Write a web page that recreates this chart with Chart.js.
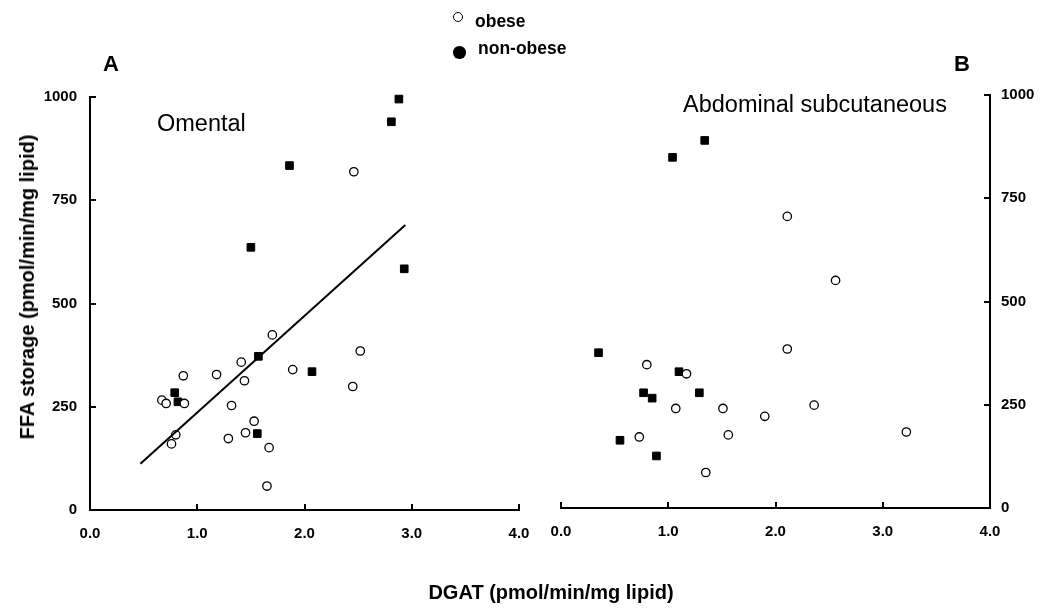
<!DOCTYPE html>
<html>
<head>
<meta charset="utf-8">
<script src="https://cdn.jsdelivr.net/npm/chart.js@4/dist/chart.umd.min.js"></script>
<style>
	body { margin: 0; background: #fff; }
	#wrap { position: relative; width: 1050px; height: 615px; overflow: hidden; font-family: "Liberation Sans", Arial, sans-serif; color: #000; }
	canvas { position: absolute; top: 0; }
	#chartA { left: 0; }
	#chartB { left: 530px; }
	.txt { position: absolute; white-space: nowrap; line-height: 1; }
	.bold { font-weight: bold; }
	.dot { position: absolute; border-radius: 50%; box-sizing: border-box; }
</style>
</head>
<body>
<div id="wrap">
	<canvas id="chartA" width="560" height="615"></canvas>
	<canvas id="chartB" width="520" height="615"></canvas>

	<div class="txt bold" style="left:103px;top:53px;font-size:22px;">A</div>
	<div class="txt bold" style="left:954px;top:53px;font-size:22px;">B</div>
	<div class="txt" style="left:157px;top:112px;font-size:23.5px;">Omental</div>
	<div class="txt" style="left:683px;top:93px;font-size:23.5px;">Abdominal subcutaneous</div>

	<!-- legend -->
	<div class="dot" style="left:453px;top:12px;width:10px;height:10px;border:1.5px solid #000;background:#fff;"></div>
	<div class="txt bold" style="left:475px;top:13px;font-size:17.5px;">obese</div>
	<div class="dot" style="left:453px;top:46px;width:12.5px;height:12.5px;background:#000;"></div>
	<div class="txt bold" style="left:478px;top:40px;font-size:17.5px;">non-obese</div>

	<div class="txt bold" style="left:27px;top:287px;font-size:20px;transform:translate(-50%,-50%) rotate(-90deg);">FFA storage (pmol/min/mg lipid)</div>
	<div class="txt bold" style="left:551px;top:582px;font-size:20px;transform:translateX(-50%);">DGAT (pmol/min/mg lipid)</div>
</div>

<script>
// Panel A - omental
const omentalObeseX = [2.46, 1.70, 2.52, 1.41, 1.89, 1.18, 0.87, 1.44, 2.45, 0.67, 0.71, 0.88, 1.32, 1.53, 1.45, 1.29, 0.80, 0.76, 1.67, 1.65];
const omentalObeseY = [819, 424, 385, 358, 340, 328, 325, 313, 299, 266, 258, 258, 253, 215, 187, 173, 182, 160, 151, 58];
const omentalNonObeseX = [2.88, 2.81, 1.86, 1.50, 2.93, 1.57, 2.07, 0.79, 0.82, 1.56];
const omentalNonObeseY = [995, 940, 834, 636, 584, 372, 335, 284, 262, 185];
// regression line end points
const omentalFitX = [0.47, 2.94];
const omentalFitY = [112, 690];

// Panel B - abdominal subcutaneous
const subcutObeseX = [2.11, 2.56, 2.11, 0.80, 1.17, 1.07, 1.51, 2.36, 1.90, 0.73, 1.56, 3.22, 1.35];
const subcutObeseY = [706, 551, 385, 347, 325, 241, 241, 249, 222, 172, 177, 184, 86];
const subcutNonObeseX = [1.34, 1.04, 0.35, 1.10, 0.77, 0.85, 1.29, 0.55, 0.89];
const subcutNonObeseY = [890, 849, 376, 330, 279, 266, 279, 164, 126];

const xTicks = [0, 1, 2, 3, 4];
const yTicks = [0, 250, 500, 750, 1000];

const tickFont = { family: "'Liberation Sans', Arial, sans-serif", size: 15, weight: "bold" };

function toPoints(xs, ys) {
	return xs.map((x, i) => ({ x: x, y: ys[i] }));
}

// draws the short inward tick marks on both axes
const innerTicks = {
	id: "innerTicks",
	afterDraw(chart, args, opts) {
		const ctx = chart.ctx;
		const xs = chart.scales.x;
		const ys = chart.scales.y;
		const area = chart.chartArea;
		ctx.save();
		ctx.strokeStyle = "#000";
		ctx.lineWidth = 2;
		xTicks.forEach((v) => {
			const px = Math.round(xs.getPixelForValue(v));
			ctx.beginPath();
			ctx.moveTo(px, area.bottom);
			ctx.lineTo(px, area.bottom - 6);
			ctx.stroke();
		});
		yTicks.forEach((v) => {
			const py = Math.round(ys.getPixelForValue(v));
			const edge = opts.right ? area.right : area.left;
			ctx.beginPath();
			ctx.moveTo(edge, py);
			ctx.lineTo(opts.right ? edge - 6 : edge + 6, py);
			ctx.stroke();
		});
		ctx.restore();
	},
};

function makePanel(canvasId, obese, nonObese, fit, yRight, padding, yWidth) {
	const datasets = [];
	if (fit) {
		datasets.push({
			data: fit,
			showLine: true,
			borderColor: "#000",
			borderWidth: 2,
			pointRadius: 0,
			fill: false,
		});
	}
	datasets.push({
		data: obese,
		clip: false,
		pointStyle: "circle",
		pointRadius: 4.2,
		pointBorderWidth: 1.3,
		pointBackgroundColor: "#fff",
		pointBorderColor: "#000",
	});
	datasets.push({
		data: nonObese,
		clip: false,
		pointStyle: "rect",
		pointRadius: 5.4,
		pointBorderWidth: 1,
		pointBackgroundColor: "#000",
		pointBorderColor: "#000",
	});

	return new Chart(document.getElementById(canvasId), {
		type: "scatter",
		data: { datasets: datasets },
		plugins: [innerTicks],
		options: {
			responsive: false,
			animation: false,
			layout: { padding: padding },
			plugins: {
				legend: { display: false },
				tooltip: { enabled: false },
				innerTicks: { right: yRight },
			},
			scales: {
				x: {
					min: 0,
					max: 4,
					afterBuildTicks: (scale) => {
						scale.ticks = xTicks.map((v) => ({ value: v }));
					},
					afterFit: (scale) => {
						scale.height = 105;
					},
					grid: { display: false, drawTicks: false },
					border: { display: true, color: "#000", width: 2 },
					ticks: {
						color: "#000",
						font: tickFont,
						padding: 15,
						maxRotation: 0,
						callback: (v) => Number(v).toFixed(1),
					},
				},
				y: {
					position: yRight ? "right" : "left",
					min: 0,
					max: 1000,
					afterBuildTicks: (scale) => {
						scale.ticks = yTicks.map((v) => ({ value: v }));
					},
					afterFit: (scale) => {
						scale.width = yWidth;
					},
					grid: { display: false, drawTicks: false },
					border: { display: true, color: "#000", width: 2 },
					ticks: {
						color: "#000",
						font: tickFont,
						padding: yRight ? 11 : 13,
						callback: (v) => String(v),
					},
				},
			},
		},
	});
}

document.addEventListener("DOMContentLoaded", function () {
	makePanel(
		"chartA",
		toPoints(omentalObeseX, omentalObeseY),
		toPoints(omentalNonObeseX, omentalNonObeseY),
		toPoints(omentalFitX, omentalFitY),
		false,
		{ top: 97, right: 41, bottom: 0, left: 0 },
		90
	);
	makePanel(
		"chartB",
		toPoints(subcutObeseX, subcutObeseY),
		toPoints(subcutNonObeseX, subcutNonObeseY),
		null,
		true,
		{ top: 95, right: 0, bottom: 2, left: 31 },
		60
	);
});
</script>
</body>
</html>
